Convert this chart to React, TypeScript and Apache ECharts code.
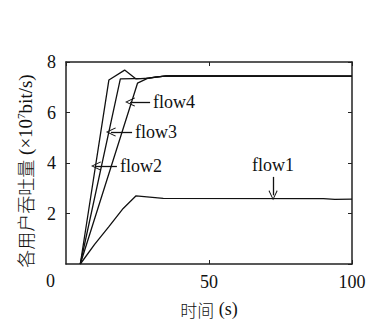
import React, { useEffect, useRef } from "react";
import * as echarts from "echarts";

const flow1: [number, number][] = [[5, 0], [10, 0.78], [15, 1.48], [20, 2.2], [24.5, 2.7], [34, 2.6], [90, 2.59], [94, 2.56], [100, 2.57]];
const flow2: [number, number][] = [[5, 0], [15, 7.29], [20.5, 7.68], [24.5, 7.33], [29, 7.36], [35, 7.45], [100, 7.44]];
const flow3: [number, number][] = [[5, 0], [19, 7.33], [28, 7.35], [35, 7.45], [100, 7.44]];
const flow4: [number, number][] = [[5, 0], [25, 7.16], [28.5, 7.35], [31.5, 7.41], [36, 7.45], [100, 7.44]];

const annotations = [
  { label: "flow1", from: [72.4, 3.45], to: [72.4, 2.72] },
  { label: "flow2", from: [17.8, 3.88], to: [10.5, 3.88] },
  { label: "flow3", from: [23.1, 5.23], to: [15.7, 5.23] },
  { label: "flow4", from: [29.4, 6.42], to: [22.4, 6.42] },
];

const xTicks = { min: 0, max: 100, interval: 50 };
const yTicks = { min: 0, max: 8, interval: 2 };

const xTitle = "{cn|时间} {lat|(s)}";
const yTitle = "{cn|各用户吞吐量} {lat|(×10}{sup|7}{lat|bit/s)}";

const SERIF = "'Liberation Serif', 'DejaVu Serif', serif";
const CJK = "'Noto Sans CJK SC', sans-serif";
const FONT = SERIF;
const AX = "#222";
const TXT = "#111";
const ARROW = "path://M0,0 L6,10 L5,10.6 L0,2.2 L-5,10.6 L-6,10 Z";

export default function App() {
  const ref = useRef<HTMLDivElement>(null);
  useEffect(() => {
    if (!ref.current) return;
    const chart = echarts.init(ref.current, null, { renderer: "svg" });
    const axisCommon = {
      axisLine: { show: true, onZero: false, lineStyle: { color: AX, width: 1.5 } },
      axisTick: { show: true, inside: true, length: 4, lineStyle: { color: AX, width: 1 } },
      splitLine: { show: false },
    };
    const lineSeries = (name: string, data: [number, number][], extra: any = {}) => ({
      name,
      type: "line",
      data,
      showSymbol: false,
      symbol: "none",
      lineStyle: { color: "#111", width: 1.3 },
      silent: true,
      ...extra,
    });
    const markLine = {
      silent: true,
      symbol: ["none", ARROW],
      symbolSize: [9, 10],
      lineStyle: { color: "#111", width: 1.3, type: "solid" },
      label: {
        show: true,
        position: "start",
        distance: 3,
        color: TXT,
        fontSize: 18,
        fontFamily: FONT,
      },
      data: annotations.map((a) => [
        { coord: a.from, label: { formatter: a.label } },
        { coord: a.to },
      ]),
    };
    chart.setOption({
      animation: false,
      grid: { left: 66, top: 62, right: 22, bottom: 56, containLabel: false, outerBoundsMode: "none" },
      xAxis: [
        {
          type: "value",
          ...xTicks,
          position: "bottom",
          ...axisCommon,
          axisLabel: { showMinLabel: false, color: TXT, fontSize: 18, fontFamily: FONT, margin: 9 },
          name: xTitle,
          nameLocation: "middle",
          nameGap: 36,
          nameTextStyle: {
            color: TXT,
            fontSize: 18,
            fontFamily: FONT,
            rich: {
              cn: { fontSize: 17, fontFamily: CJK, color: TXT, fontWeight: 300 },
              lat: { fontSize: 18, fontFamily: SERIF, color: TXT },
            },
          },
        },
        {
          type: "value",
          ...xTicks,
          position: "top",
          ...axisCommon,
          axisLabel: { show: false },
        },
      ],
      yAxis: [
        {
          type: "value",
          ...yTicks,
          position: "left",
          ...axisCommon,
          axisLabel: { showMinLabel: false, color: TXT, fontSize: 18, fontFamily: FONT, margin: 10 },
        },
        {
          type: "value",
          ...yTicks,
          position: "right",
          ...axisCommon,
          axisLabel: { show: false },
        },
      ],
      graphic: [
        {
          type: "text",
          left: 46,
          top: 272,
          style: { text: "0", fontSize: 18, fontFamily: FONT, fill: TXT },
        },
        {
          type: "text",
          x: 25,
          y: 171,
          rotation: Math.PI / 2,
          style: {
            text: yTitle,
            fontSize: 19,
            fontFamily: FONT,
            fill: TXT,
            align: "center",
            verticalAlign: "middle",
            rich: {
              cn: { fontSize: 18, fontFamily: CJK, fill: TXT, fontWeight: 300 },
              lat: { fontSize: 19, fontFamily: SERIF, fill: TXT },
              sup: { fontSize: 11, fontFamily: SERIF, fill: TXT, padding: [0, 0, 9, 0] },
            },
          },
        },
      ],
      series: [
        lineSeries("flow1", flow1, { markLine }),
        lineSeries("flow2", flow2),
        lineSeries("flow3", flow3),
        lineSeries("flow4", flow4),
      ],
    });
    return () => chart.dispose();
  }, []);
  return <div ref={ref} style={{ position: "absolute", left: 0, top: 0, width: 374, height: 320 }} />;
}
